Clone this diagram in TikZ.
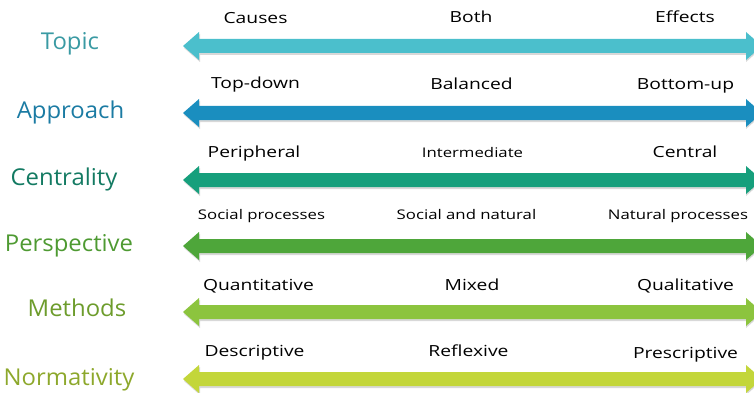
\documentclass[tikz,border=0pt]{standalone}
\usepackage{fontspec}
\setmainfont{Open Sans}
\newfontfamily\rowfont[FakeStretch=1.03]{Open Sans}
\newfontfamily\polefont[FakeStretch=1.26]{Open Sans}
\definecolor{cTopic}{HTML}{4BBFCC}
\definecolor{cAppr}{HTML}{1A8EBF}
\definecolor{cCent}{HTML}{169F7C}
\definecolor{cPers}{HTML}{4EA63A}
\definecolor{cMeth}{HTML}{8CC43E}
\definecolor{cNorm}{HTML}{C3D63A}
\definecolor{tTopic}{HTML}{3A9AA3}
\definecolor{tAppr}{HTML}{1B7BA3}
\definecolor{tCent}{HTML}{137A62}
\definecolor{tPers}{HTML}{4E9A32}
\definecolor{tMeth}{HTML}{6D9C2C}
\definecolor{tNorm}{HTML}{8DA82C}
\tikzset{
  rowlabel/.style={font=\rowfont\fontsize{23.2}{26}\selectfont, anchor=base, inner sep=0pt},
  polelabel/.style={font=\polefont\fontsize{15.3}{17}\selectfont, anchor=base, inner sep=0pt, text=black},
  smalllabel/.style={font=\polefont\fontsize{13.3}{15}\selectfont, anchor=base, inner sep=0pt, text=black},
}
\newcommand{\bidarrow}[2]{%
  \fill[black!30, opacity=0.5] (184,{#1+2}) -- (200,{#1-12}) -- (200,{#1-5}) -- (746,{#1-5}) -- (746,{#1-12}) -- (762,{#1+2}) -- (746,{#1+16}) -- (746,{#1+9}) -- (200,{#1+9}) -- (200,{#1+16}) -- cycle;
  \fill[#2] (183,#1) -- (199,{#1-14}) -- (199,{#1-7}) -- (746,{#1-7}) -- (746,{#1-14}) -- (762,#1) -- (746,{#1+14}) -- (746,{#1+7}) -- (199,{#1+7}) -- (199,{#1+14}) -- cycle;
}
\begin{document}
\begin{tikzpicture}[x=1pt,y=-1pt]
\useasboundingbox (0,0) rectangle (754,393);
\clip (0,0) rectangle (754,393);
% arrows
\bidarrow{46}{cTopic}
\bidarrow{113}{cAppr}
\bidarrow{180}{cCent}
\bidarrow{246}{cPers}
\bidarrow{312}{cMeth}
\bidarrow{379}{cNorm}
% row labels
\node[rowlabel, text=tTopic] (topic) at (70,50) {Topic};
\node[rowlabel, text=tAppr] (appr) at (70.5,118) {Approach};
\node[rowlabel, text=tCent] (cent) at (64,185) {Centrality};
\node[rowlabel, text=tPers] (pers) at (69,251) {Perspective};
\node[rowlabel, text=tMeth] (meth) at (77,316) {Methods};
\node[rowlabel, text=tNorm] (norm) at (69,385) {Normativity};
% pole labels
\node[polelabel] (t1) at (255.5,24) {Causes};
\node[polelabel] (t2) at (471,23) {Both};
\node[polelabel] (t3) at (685,23) {Effects};
\node[polelabel] (a1) at (255.5,89) {Top-down};
\node[polelabel] (a2) at (471.5,90) {Balanced};
\node[polelabel] (a3) at (685.5,90) {Bottom-up};
\node[polelabel] (c1) at (254,157) {Peripheral};
\node[smalllabel] (c2) at (472.5,157) {Intermediate};
\node[polelabel] (c3) at (685,157) {Central};
\node[smalllabel] (p1) at (261.5,219) {Social processes};
\node[smalllabel] (p2) at (466.5,219) {Social and natural};
\node[smalllabel] (p3) at (678,219) {Natural processes};
\node[polelabel] (m1) at (258.5,290) {Quantitative};
\node[polelabel] (m2) at (472,290) {Mixed};
\node[polelabel] (m3) at (685.5,290) {Qualitative};
\node[polelabel] (n1) at (254.5,356) {Descriptive};
\node[polelabel] (n2) at (468.5,356) {Reflexive};
\node[polelabel] (n3) at (685.5,358) {Prescriptive};
\end{tikzpicture}
\end{document}
